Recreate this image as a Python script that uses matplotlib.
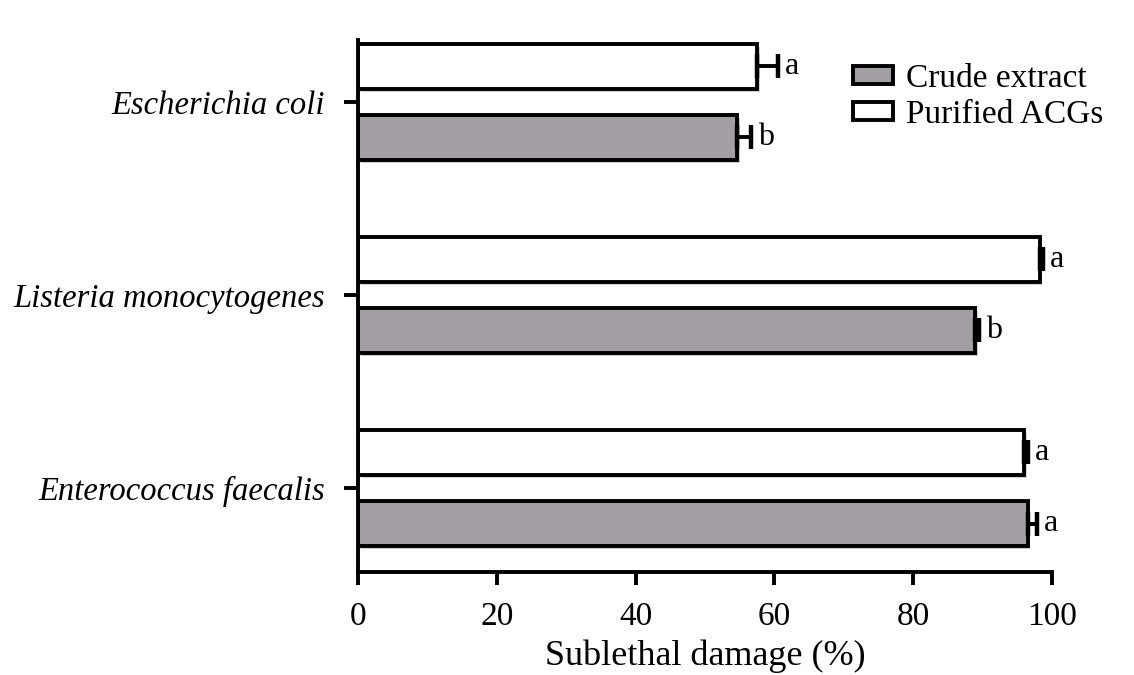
import matplotlib.pyplot as plt
from matplotlib.patches import Patch
import matplotlib.patheffects as pe

# Categories (top to bottom in the chart)
species = ['Escherichia coli', 'Listeria monocytogenes', 'Enterococcus faecalis']

# Sublethal damage (%)
crude = [54.6, 88.9, 96.5]
crude_err = [2.0, 0.6, 1.3]
purified = [57.5, 98.2, 96.0]
purified_err = [3.0, 0.5, 0.5]

# Letters of significance
crude_letters = ['b', 'b', 'a']
purified_letters = ['a', 'a', 'a']

plt.rcParams['font.family'] = ['Liberation Serif', 'DejaVu Serif']

fig = plt.figure(figsize=(11.34, 6.75), dpi=100)
ax = fig.add_axes([0.3157, 0.1526, 0.612, 0.788])

pos = [2, 1, 0]
off = 0.184
h = 0.233
lw = 2.8
shadow = [pe.SimplePatchShadow(offset=(2, -2), alpha=0.25), pe.Normal()]

yp = [p + off for p in pos]
yc = [p - off for p in pos]

bp = ax.barh(yp, purified, height=h, color='white', edgecolor='black', linewidth=lw, zorder=2)
bc = ax.barh(yc, crude, height=h, color='#a39ea3', edgecolor='black', linewidth=lw, zorder=2)
for b in list(bp) + list(bc):
    b.set_path_effects(shadow)

ax.errorbar(purified, yp, xerr=[[0] * 3, purified_err], fmt='none', ecolor='black',
            elinewidth=lw, capsize=8.5, capthick=3.2, zorder=3)
ax.errorbar(crude, yc, xerr=[[0] * 3, crude_err], fmt='none', ecolor='black',
            elinewidth=lw, capsize=8.5, capthick=3.2, zorder=3)

for i in range(3):
    ax.text(purified[i] + purified_err[i] + 1.0, yp[i], purified_letters[i],
            ha='left', va='center', fontsize=23)
    ax.text(crude[i] + crude_err[i] + 1.0, yc[i], crude_letters[i],
            ha='left', va='center', fontsize=23)

ax.set_xlim(0, 100)
ax.set_ylim(-0.435, 2.32)
ax.set_xticks([0, 20, 40, 60, 80, 100])
ax.set_yticks(pos)
ax.set_yticklabels(species, fontstyle='italic', fontsize=23.5)
ax.tick_params(axis='x', labelsize=24, width=lw, length=9, pad=12)
ax.tick_params(axis='y', width=lw, length=10, pad=14)
ax.set_xlabel('Sublethal damage (%)', fontsize=26, labelpad=6)

for s in ['top', 'right']:
    ax.spines[s].set_visible(False)
for s in ['left', 'bottom']:
    ax.spines[s].set_linewidth(lw)

handles = [Patch(facecolor='#a39ea3', edgecolor='black', linewidth=lw, label='Crude extract'),
           Patch(facecolor='white', edgecolor='black', linewidth=lw, label='Purified ACGs')]
ax.legend(handles=handles, loc='upper left', bbox_to_anchor=(0.67, 1.012), frameon=False,
          fontsize=24, handlelength=1.2, handleheight=0.45, handletextpad=0.4, labelspacing=0.15)

fig.savefig('out.png', dpi=100)
